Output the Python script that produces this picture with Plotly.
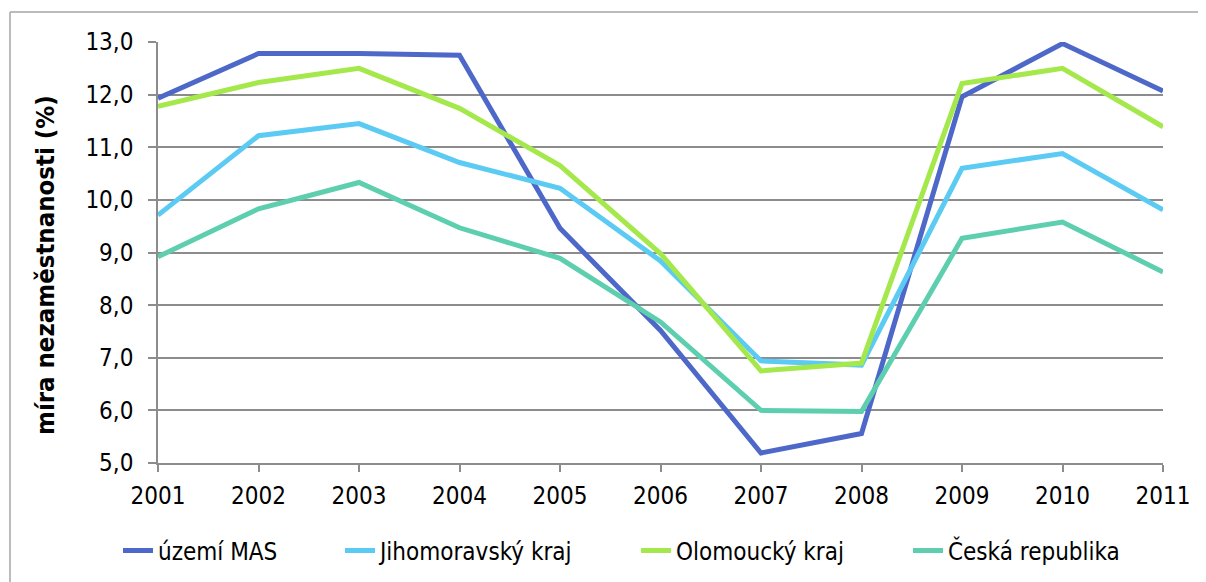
import plotly.graph_objects as go

years = [2001, 2002, 2003, 2004, 2005, 2006, 2007, 2008, 2009, 2010, 2011]
uzemi_mas = [11.93, 12.78, 12.78, 12.75, 9.46, 7.52, 5.19, 5.56, 11.96, 12.97, 12.07]
jihomoravsky = [9.71, 11.22, 11.45, 10.71, 10.22, 8.84, 6.94, 6.86, 10.60, 10.88, 9.81]
olomoucky = [11.78, 12.23, 12.50, 11.74, 10.65, 8.98, 6.75, 6.90, 12.21, 12.50, 11.39]
ceska = [8.92, 9.83, 10.33, 9.47, 8.89, 7.68, 6.00, 5.98, 9.27, 9.58, 8.63]

series_names = ["území MAS", "Jihomoravský kraj", "Olomoucký kraj", "Česká republika"]
series_values = [uzemi_mas, jihomoravsky, olomoucky, ceska]
series_colors = ["#4D68C8", "#5BCBF4", "#A5E84C", "#5DCFAF"]
y_title = "míra nezaměstnanosti (%)"

FONT = "DejaVu Sans Condensed, DejaVu Sans, sans-serif"
GRID = "#8c8c8c"

# page body has an 8px margin: figure is drawn 8px right/down in the screenshot
W, H = 1198, 574
L, R, T, B = 150, 43, 34, 119
pw, ph = W - L - R, H - T - B
OFF = 8

def px_x(p):  # screen pixel -> paper x
    return (p - OFF - L) / pw

def px_y(p):  # screen pixel -> paper y
    return (H - B - (p - OFF)) / ph

legend_ids = ["legend", "legend2", "legend3", "legend4"]
legend_text_x = [158, 380, 676, 948]  # screen x where each legend label starts

fig = go.Figure()
for name, vals, col, lid in zip(series_names, series_values, series_colors, legend_ids):
    fig.add_trace(go.Scatter(x=years, y=vals, name=name, mode="lines", legend=lid,
                             line=dict(color=col, width=5)))

legend_common = dict(orientation="h", xanchor="left", yanchor="middle",
                     y=px_y(551), bgcolor="rgba(0,0,0,0)", borderwidth=0,
                     font=dict(family=FONT, size=24, color="black"))
legends = {}
for lid, tx in zip(legend_ids, legend_text_x):
    legends[lid] = dict(legend_common, x=px_x(tx - 40))

fig.update_layout(
    width=W, height=H,
    margin=dict(l=L, r=R, t=T, b=B, pad=0, autoexpand=False),
    paper_bgcolor="white", plot_bgcolor="white",
    separators=", ",
    font=dict(family=FONT, size=24, color="black"),
    showlegend=True,
    **legends,
    xaxis=dict(range=[2001, 2011], tickmode="array", tickvals=years,
               ticktext=[str(y) for y in years], automargin=False,
               showgrid=False, zeroline=False,
               showline=True, linecolor=GRID, linewidth=1.5,
               ticks="outside", ticklen=7, tickcolor=GRID, tickwidth=1.5,
               ticklabelstandoff=3,
               tickfont=dict(family=FONT, size=24, color="black")),
    yaxis=dict(range=[5, 13], dtick=1, tick0=5, tickformat=".1f", automargin=False,
               showgrid=True, gridcolor=GRID, gridwidth=1.5, zeroline=False,
               showline=True, linecolor=GRID, linewidth=1.5,
               ticks="outside", ticklen=8, tickcolor=GRID, tickwidth=1.5,
               ticklabelstandoff=10,
               tickfont=dict(family=FONT, size=24, color="black")),
)

fig.add_annotation(text="<b>" + y_title + "</b>", textangle=-90,
                   xref="paper", yref="paper", x=px_x(45), y=px_y(265),
                   xanchor="center", yanchor="middle", showarrow=False,
                   font=dict(family=FONT, size=25.5, color="black"))

# outer chart frame: only left and top edges are visible in the view
fig.add_shape(type="line", xref="paper", yref="paper",
              x0=px_x(10), x1=px_x(10), y0=px_y(640), y1=px_y(12),
              line=dict(color="#a6a6a6", width=1.5), layer="below")
fig.add_shape(type="line", xref="paper", yref="paper",
              x0=px_x(10), x1=px_x(1260), y0=px_y(12), y1=px_y(12),
              line=dict(color="#a6a6a6", width=1.5), layer="below")

fig.write_html(
    "out.html",
    post_script="document.documentElement.style.overflow='hidden';"
                "document.body.style.overflow='hidden';",
)
